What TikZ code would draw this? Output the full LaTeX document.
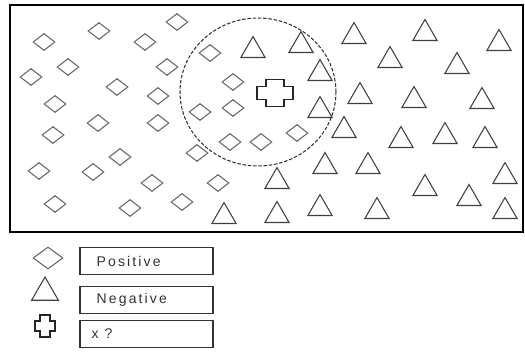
\documentclass[tikz,border=0pt]{standalone}
\usepackage{fontspec}
\usepackage{tikz}
\usetikzlibrary{positioning,shapes.geometric}
\newfontfamily\lgdfont[LetterSpace=15]{Liberation Sans}

\begin{document}
\begin{tikzpicture}[x=0.02cm,y=-0.02cm,
        posdia/.style={diamond,draw=black!60,line width=0.6pt,inner sep=0pt,
                    minimum width=0.44cm,minimum height=0.34cm},
        negtri/.style={regular polygon,regular polygon sides=3,draw=black!75,
                    line width=0.6pt,inner sep=0pt,minimum size=0.56cm,yshift=-2pt},
        lbox/.style={draw=black!80,line width=0.8pt,minimum width=2.66cm,
                    minimum height=0.54cm,inner sep=0pt},
        lbl/.style={anchor=west,inner sep=0pt,font=\lgdfont\fontsize{8}{9}\selectfont,
                    black!80},
        query/.pic={\draw[black!85,line width=0.8pt]
            (-5,-11) -- (5,-11) -- (5,-5) -- (10,-5) -- (10,5) -- (5,5) -- (5,11)
            -- (-5,11) -- (-5,5) -- (-10,5) -- (-10,-5) -- (-5,-5) -- cycle;}]
        \useasboundingbox (0,0) rectangle (525,352);
        % frame and neighbourhood
        \draw[line width=1.2pt] (10,5) rectangle (523,232);
        \node[draw=black!80,dashed,dash pattern=on 2pt off 1pt,line width=0.6pt,
              ellipse,minimum width=3.12cm,minimum height=2.96cm] (nbhd) at (258,92) {};
        \foreach \x/\y [count=\i] in {44/42,99/31,145/42,177/22,210/53,31/77,68/67,
            117/87,167/67,55/104,98/123,158/96,200/112,233/82,233/108,53/135,
            158/123,230/142,261/142,297/133,120/157,197/153,39/171,93/172,
            152/183,218/183,55/204,130/208,182/202}
          \node[posdia] (p\i) at (\x,\y) {};
        \foreach \x/\y [count=\j] in {253/47,301/42,354/33,425/30,499/40,390/57,
            457/63,320/70,360/93,414/97,482/98,320/107,344/127,401/137,445/133,
            485/137,325/163,368/163,277/178,505/173,425/185,469/195,224/213,
            277/212,320/205,377/208,505/208}
          \node[negtri] (n\j) at (\x,\y) {};
        \pic[xscale=1.8,yscale=1.25] (q) at (275,93) {query};
        % legend
        \node[posdia,minimum width=0.6cm,minimum height=0.44cm] (lp) at (48,258) {};
        \node[negtri,minimum size=0.62cm] (ln) at (45,289) {};
        \pic (lq) at (45,326) {query};
        \foreach \k/\y/\txt/\gap in {1/261/Positive/0.34cm,2/300/Negative/0.34cm,
            3/334/x ?/0.24cm}{
          \node[lbox] (b\k) at (146.5,\y) {};
          \node[lbl,right=\gap of b\k.west] (t\k) {\txt};
        }
      \end{tikzpicture}
\end{document}
